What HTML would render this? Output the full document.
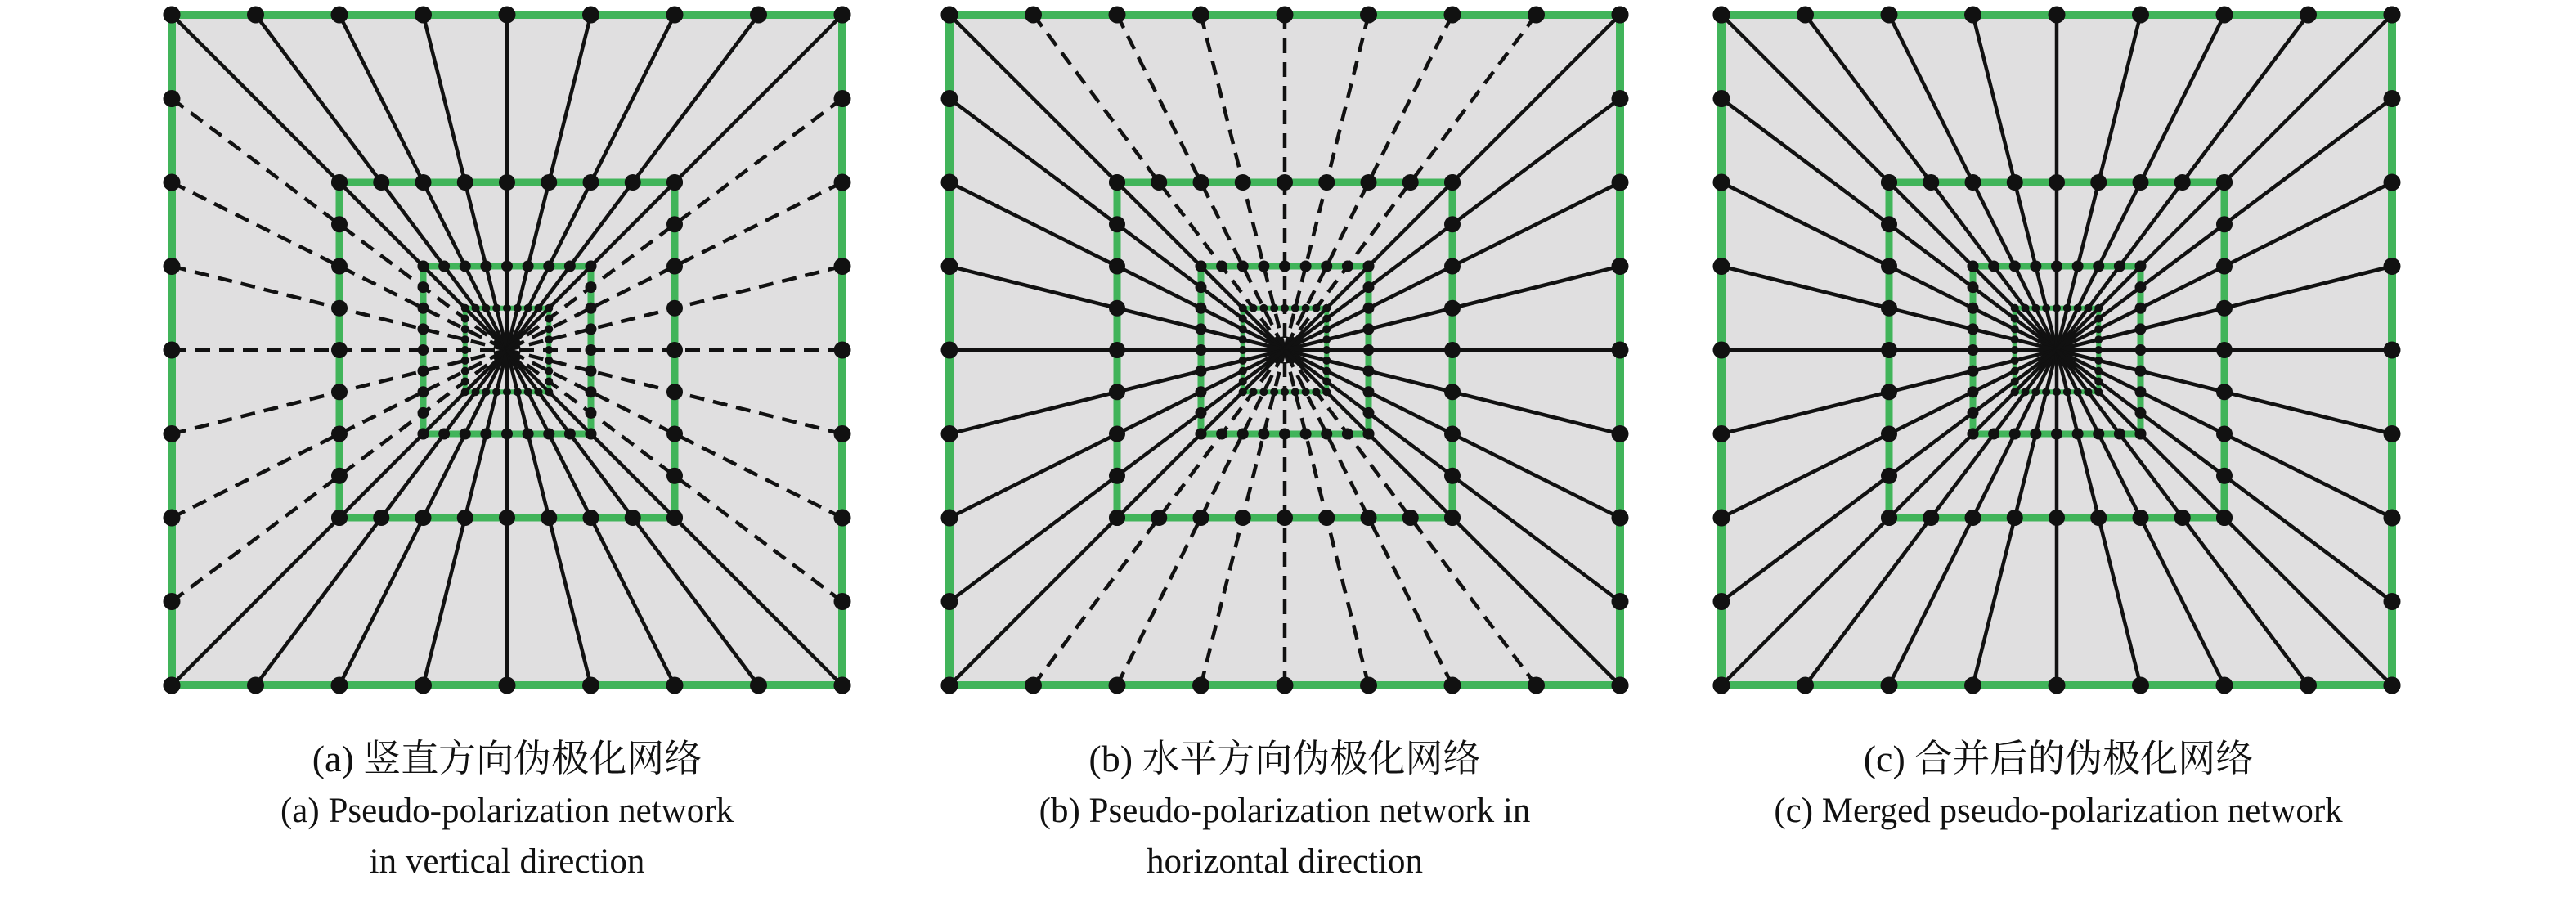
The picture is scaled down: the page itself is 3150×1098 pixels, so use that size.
<!DOCTYPE html>
<html><head><meta charset="utf-8">
<style>
html,body{margin:0;padding:0;background:#fff;}
body{width:3150px;height:1098px;overflow:hidden;position:relative;}
svg{position:absolute;left:0;top:0;}
.cap{position:absolute;width:900px;text-align:center;font-family:"Liberation Serif","Noto Serif CJK SC",serif;font-size:43px;color:#111;line-height:62px;}
.zh{font-size:46px;}
</style></head>
<body>
<svg id="g" width="3150" height="1098" xmlns="http://www.w3.org/2000/svg"></svg>
<div class="cap" style="left:170px;top:897px;"><span class="zh">(a) 竖直方向伪极化网络</span><br>(a) Pseudo-polarization network<br>in vertical direction</div>
<div class="cap" style="left:1121px;top:897px;"><span class="zh">(b) 水平方向伪极化网络</span><br>(b) Pseudo-polarization network in<br>horizontal direction</div>
<div class="cap" style="left:2067px;top:897px;"><span class="zh">(c) 合并后的伪极化网络</span><br>(c) Merged pseudo-polarization network</div>
<script>
(function(){
var svg=document.getElementById('g');var NS='http://www.w3.org/2000/svg';
function el(t,a){var e=document.createElementNS(NS,t);for(var k in a)e.setAttribute(k,a[k]);svg.appendChild(e);return e;}
var panels=[{cx:620,mode:'v'},{cx:1571,mode:'h'},{cx:2515,mode:'c'}];
var cy=428,R=[410,205,102.5,51.25],sw=[10,9,8,6],dr=[10.5,10,7,5];
panels.forEach(function(p){
 var cx=p.cx;
 el('rect',{x:cx-R[0],y:cy-R[0],width:2*R[0],height:2*R[0],fill:'#e0dfe0'});
 for(var i=0;i<4;i++){el('rect',{x:cx-R[i],y:cy-R[i],width:2*R[i],height:2*R[i],fill:'none',stroke:'#41b45a','stroke-width':sw[i]});}
 for(var k=0;k<9;k++){
  var t=(k-4)/4;
  var corner=(k==0||k==8);
  [[cx+t*R[0],cy-R[0]],[cx+t*R[0],cy+R[0]]].forEach(function(q){
   var dashed=(p.mode=='h'&&!corner);
   var a={x1:q[0],y1:q[1],x2:cx,y2:cy,stroke:'#111','stroke-width':4.5};
   if(dashed)a['stroke-dasharray']='18 11';
   el('line',a);
  });
  if(!corner){
   [[cx-R[0],cy+t*R[0]],[cx+R[0],cy+t*R[0]]].forEach(function(q){
    var dashed=(p.mode=='v');
    var a={x1:q[0],y1:q[1],x2:cx,y2:cy,stroke:'#111','stroke-width':4.5};
    if(dashed)a['stroke-dasharray']='18 11';
    el('line',a);
   });
  }
 }
 for(var i=0;i<4;i++){
  for(var k=0;k<9;k++){
   var t=(k-4)/4*R[i];
   var pts=[[cx+t,cy-R[i]],[cx+t,cy+R[i]],[cx-R[i],cy+t],[cx+R[i],cy+t]];
   pts.forEach(function(q){el('circle',{cx:q[0],cy:q[1],r:dr[i],fill:'#111'});});
  }
 }
});
})();
</script>
</body></html>
